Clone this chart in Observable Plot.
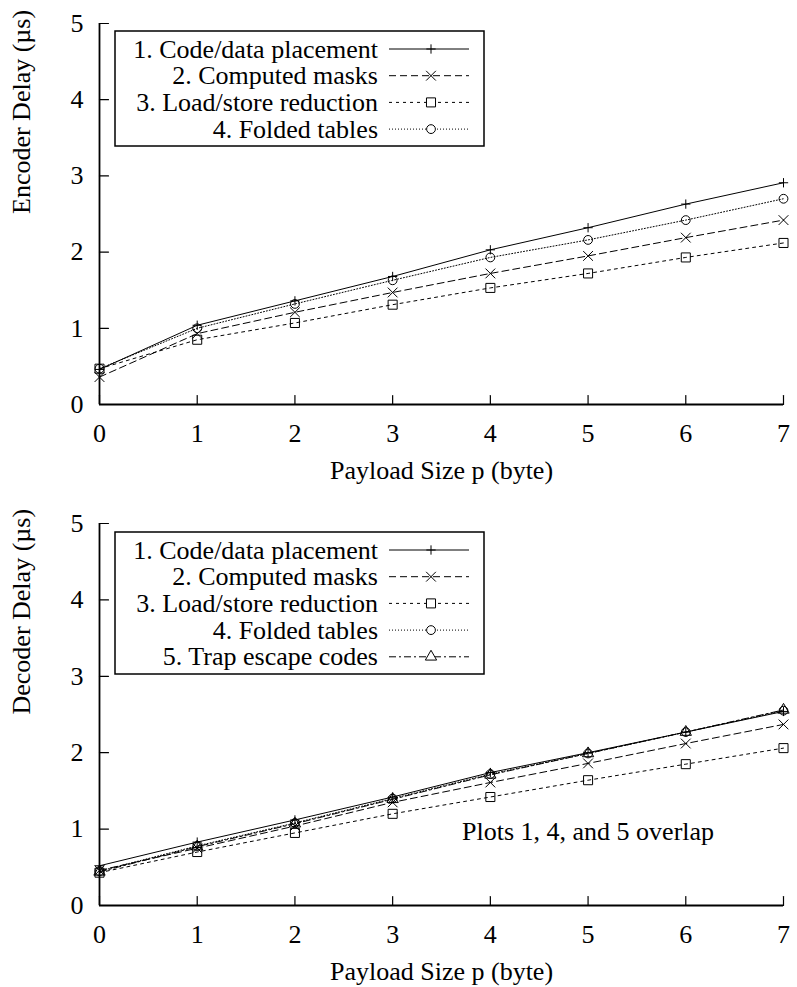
<!DOCTYPE html>
<html>
<head>
<meta charset="utf-8">
<script src="https://cdn.jsdelivr.net/npm/d3@7"></script>
<script src="https://cdn.jsdelivr.net/npm/@observablehq/plot@0.6"></script>
<style>
  html, body { margin: 0; padding: 0; background: #fff; }
  #root { width: 797px; position: relative; font-family: "Liberation Serif", "Times New Roman", serif; }
  .panel { position: relative; width: 797px; }
  .legend { position: absolute; }
  svg text { font-family: "Liberation Serif", "Times New Roman", serif; }
</style>
</head>
<body>
<div id="root"></div>
<script>
// ---- data ----
const payload = [0, 1, 2, 3, 4, 5, 6, 7];
const xTicks = [0, 1, 2, 3, 4, 5, 6, 7];
const yTicks = [0, 1, 2, 3, 4, 5];

const seriesNames = [
  "1. Code/data placement",
  "2. Computed masks",
  "3. Load/store reduction",
  "4. Folded tables",
  "5. Trap escape codes"
];

// Encoder delay (µs)
const enc1 = [0.46, 1.04, 1.36, 1.68, 2.03, 2.32, 2.63, 2.91];
const enc2 = [0.36, 0.93, 1.21, 1.47, 1.72, 1.95, 2.19, 2.42];
const enc3 = [0.47, 0.85, 1.07, 1.31, 1.53, 1.72, 1.93, 2.12];
const enc4 = [0.47, 1.00, 1.32, 1.63, 1.93, 2.16, 2.42, 2.70];

// Decoder delay (µs)
const dec1 = [0.52, 0.83, 1.12, 1.42, 1.74, 2.00, 2.27, 2.54];
const dec2 = [0.46, 0.75, 1.04, 1.35, 1.61, 1.86, 2.12, 2.37];
const dec3 = [0.43, 0.70, 0.95, 1.20, 1.42, 1.64, 1.85, 2.06];
const dec4 = [0.45, 0.78, 1.08, 1.40, 1.72, 1.99, 2.27, 2.55];
const dec5 = [0.44, 0.77, 1.07, 1.39, 1.71, 1.99, 2.27, 2.56];

const annotation = ["Plots 1, 4, and 5 overlap"];
const annotationPos = [5.0, 0.97];

// ---- styles per series ----
const styles = [
  {symbol: "plus",     r: 3.1, dash: null},
  {symbol: "times",    r: 4.5, dash: "7,4"},
  {symbol: "square",   r: 5.1, dash: "3,4"},
  {symbol: "circle",   r: 4.4, dash: "1,2"},
  {symbol: "triangle", r: 4.2, dash: "7,3,2,3"}
];
const d3Symbols = {plus: d3.symbolPlus, times: d3.symbolTimes, square: d3.symbolSquare, circle: d3.symbolCircle, triangle: d3.symbolTriangle};

const FONT = '"Liberation Serif", "Times New Roman", serif';
const FS = 26;

// simple straight tick shape for Plot.vector
const tickShape = {draw(context, l) { context.moveTo(0, 0); context.lineTo(0, -l); }};

function makePanel({series, height, marginTop, marginBottom, yLabel, extra = []}) {
  const ML = 99, MR = 14;
  const marks = [];
  series.forEach((vals, i) => {
    const data = payload.map((p, j) => ({p, v: vals[j]}));
    const st = styles[i];
    marks.push(Plot.line(data, {x: "p", y: "v", stroke: "black", strokeWidth: 1, strokeDasharray: st.dash ?? undefined}));
    marks.push(Plot.dot(data, {x: "p", y: "v", symbol: () => st.symbol, r: st.r, stroke: "black", strokeWidth: 1, fill: "none"}));
  });
  const plot = Plot.plot({
    width: 797,
    height,
    marginLeft: ML,
    marginRight: MR,
    marginTop,
    marginBottom,
    style: {fontFamily: FONT, fontSize: FS + "px", background: "white", color: "black", overflow: "visible"},
    x: {domain: [0, 7], axis: null},
    y: {domain: [0, 5], axis: null},
    symbol: {type: "identity"},
    marks: [
      // tick labels
      Plot.axisX(xTicks, {tickSize: 0, tickPadding: 19, fontSize: FS, fontFamily: FONT, label: null, tickFormat: d => String(d)}),
      Plot.axisY(yTicks, {tickSize: 0, tickPadding: 16, fontSize: FS, fontFamily: FONT, label: null, tickFormat: d => String(d)}),
      // inward ticks
      Plot.vector(xTicks, {x: d => d, y: () => 0, length: 9, rotate: 0, anchor: "start", shape: tickShape, stroke: "black", strokeWidth: 1.2}),
      Plot.vector(yTicks, {x: () => 0, y: d => d, length: 9, rotate: 90, anchor: "start", shape: tickShape, stroke: "black", strokeWidth: 1.2}),
      // axis lines
      Plot.ruleX([0], {stroke: "black", strokeWidth: 1.8}),
      Plot.ruleY([0], {stroke: "black", strokeWidth: 1.8}),
      // axis titles
      Plot.text(["Payload Size p (byte)"], {frameAnchor: "bottom", dy: 66, text: d => d, fontSize: FS, fontFamily: FONT, lineAnchor: "middle"}),
      Plot.text([yLabel], {frameAnchor: "left", dx: -78, rotate: -90, text: d => d, fontSize: FS, fontFamily: FONT, lineAnchor: "middle"}),
      ...marks,
      ...extra
    ]
  });
  return plot;
}

function makeLegend(n, top) {
  const W = 369, rowH = 26.7, first = 18;
  const H = n === 4 ? 115 : 142;
  const svg = d3.create("svg")
    .attr("class", "legend")
    .attr("width", W + 2).attr("height", H + 2)
    .style("left", "114px").style("top", (top - 1) + "px");
  svg.append("rect").attr("x", 1).attr("y", 1).attr("width", W).attr("height", H)
    .attr("fill", "white").attr("stroke", "black").attr("stroke-width", 1.5);
  for (let i = 0; i < n; i++) {
    const y = 1 + first + i * rowH;
    const st = styles[i];
    svg.append("text").attr("x", 1 + 263).attr("y", y).attr("text-anchor", "end")
      .attr("dominant-baseline", "central")
      .style("font-family", FONT).attr("font-size", FS).attr("fill", "black")
      .text(seriesNames[i]);
    svg.append("line").attr("x1", 1 + 274).attr("x2", 1 + 354).attr("y1", y).attr("y2", y)
      .attr("stroke", "black").attr("stroke-width", 1)
      .attr("stroke-dasharray", st.dash);
    const size = st.r * st.r * Math.PI;
    svg.append("path").attr("d", d3.symbol(d3Symbols[st.symbol], size)())
      .attr("transform", `translate(${1 + 316},${y})`)
      .attr("fill", "white").attr("stroke", "black").attr("stroke-width", 1);
  }
  return svg.node();
}

const root = document.getElementById("root");

// Top panel: encoder
const p1 = document.createElement("div");
p1.className = "panel";
p1.appendChild(makePanel({series: [enc1, enc2, enc3, enc4], height: 490, marginTop: 23, marginBottom: 86, yLabel: "Encoder Delay (µs)"}));
p1.appendChild(makeLegend(4, 31));
root.appendChild(p1);

// Bottom panel: decoder
const p2 = document.createElement("div");
p2.className = "panel";
p2.appendChild(makePanel({
  series: [dec1, dec2, dec3, dec4, dec5], height: 497, marginTop: 33, marginBottom: 82,
  yLabel: "Decoder Delay (µs)",
  extra: [Plot.text(annotation, {x: () => annotationPos[0], y: () => annotationPos[1], text: d => d, fontSize: FS, fontFamily: FONT, lineAnchor: "middle"})]
}));
p2.appendChild(makeLegend(5, 42));
root.appendChild(p2);
</script>
</body>
</html>
